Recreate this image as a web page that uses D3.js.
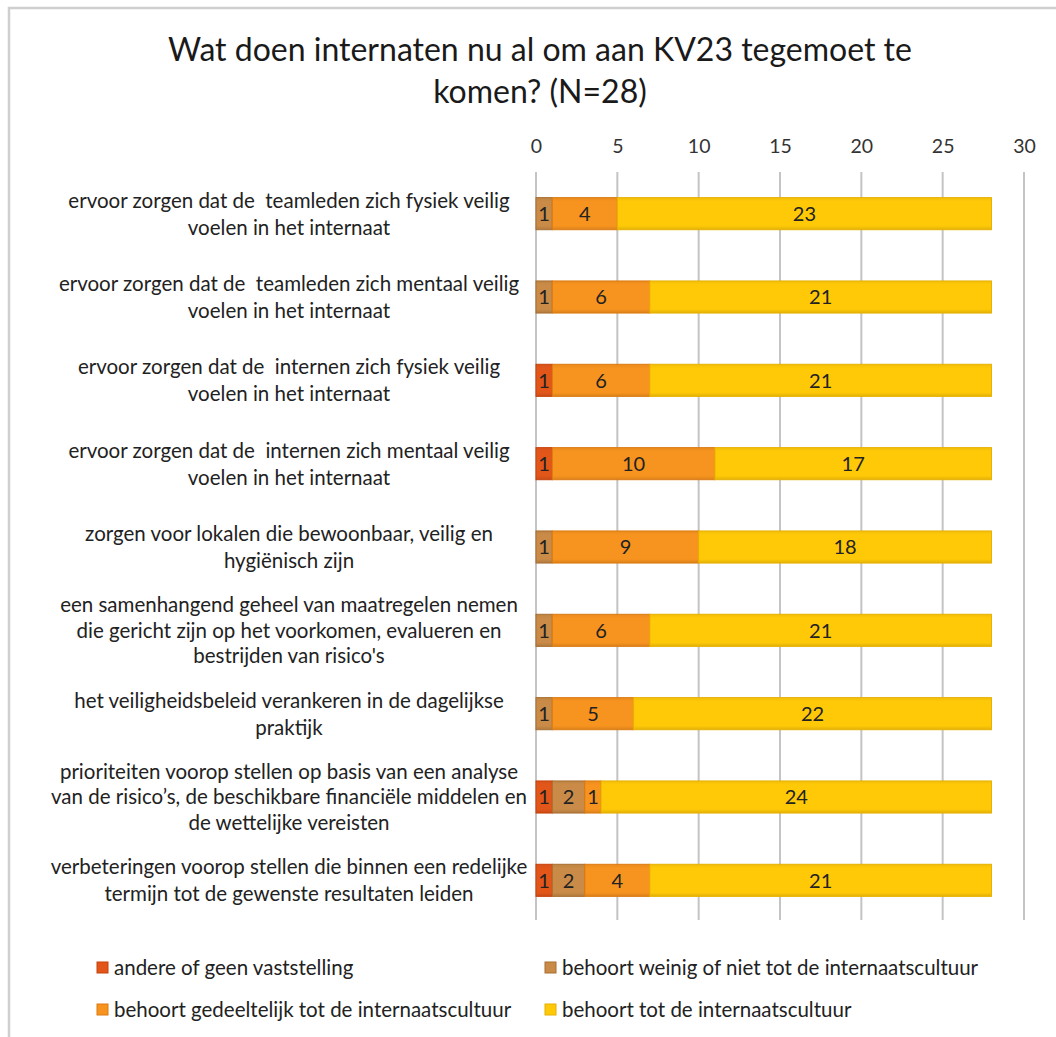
<!DOCTYPE html>
<html>
<head>
<meta charset="utf-8">
<script src="https://cdn.jsdelivr.net/npm/d3@7"></script>
<style>
  html, body { margin: 0; padding: 0; background: #fff; }
  svg { display: block; }
  text { font-family: Lato, "Open Sans", sans-serif; }
</style>
</head>
<body>
<div id="chart"></div>
<script>
// Survey: what boarding schools already do to meet KV23 (N=28)
const categories = [
  ["ervoor zorgen dat de  teamleden zich fysiek veilig", "voelen in het internaat"],
  ["ervoor zorgen dat de  teamleden zich mentaal veilig", "voelen in het internaat"],
  ["ervoor zorgen dat de  internen zich fysiek veilig", "voelen in het internaat"],
  ["ervoor zorgen dat de  internen zich mentaal veilig", "voelen in het internaat"],
  ["zorgen voor lokalen die bewoonbaar, veilig en", "hygiënisch zijn"],
  ["een samenhangend geheel van maatregelen nemen", "die gericht zijn op het voorkomen, evalueren en", "bestrijden van risico's"],
  ["het veiligheidsbeleid verankeren in de dagelijkse", "praktijk"],
  ["prioriteiten voorop stellen op basis van een analyse", "van de risico’s, de beschikbare financiële middelen en", "de wettelijke vereisten"],
  ["verbeteringen voorop stellen die binnen een redelijke", "termijn tot de gewenste resultaten leiden"]
];

const seriesNames = [
  "andere of geen vaststelling",
  "behoort weinig of niet tot de internaatscultuur",
  "behoort gedeeltelijk tot de internaatscultuur",
  "behoort tot de internaatscultuur"
];

const andere       = [0, 0, 1, 1, 0, 0, 0, 1, 1];
const weinig       = [1, 1, 0, 0, 1, 1, 1, 2, 2];
const gedeeltelijk = [4, 6, 6, 10, 9, 6, 5, 1, 4];
const behoort      = [23, 21, 21, 17, 18, 21, 22, 24, 21];

const xTicks = [0, 5, 10, 15, 20, 25, 30];

const titleLines = ["Wat doen internaten nu al om aan KV23 tegemoet te", "komen? (N=28)"];

const fills   = ["#E2561A", "#C98B47", "#F7931F", "#FFC908"];
const strokes = ["#C6420C", "#A86E30", "#DC7A10", "#E8B000"];

const W = 1056, H = 1037;
const svg = d3.select("#chart").append("svg").attr("width", W).attr("height", H);

// chart frame
svg.append("rect")
  .attr("x", 9).attr("y", 8).attr("width", W + 10).attr("height", H + 10)
  .attr("fill", "#fff").attr("stroke", "#cfcfcf").attr("stroke-width", 2.5);

// title
svg.append("g").selectAll("text").data(titleLines).join("text")
  .attr("x", 540).attr("y", (d, i) => 61 + i * 42)
  .attr("text-anchor", "middle")
  .attr("font-size", 32).attr("fill", "#1a1a1a")
  .text(d => d);

const idx = d3.range(categories.length);
const x = d3.scaleLinear().domain([0, 30]).range([536, 1024]);
const y = d3.scaleBand().domain(idx).range([172, 922]).paddingInner(0.615).paddingOuter(0.3075);

// gridlines
svg.append("g").selectAll("line").data(xTicks).join("line")
  .attr("x1", d => x(d)).attr("x2", d => x(d))
  .attr("y1", 172).attr("y2", 920)
  .attr("stroke", "#c4c4c4").attr("stroke-width", 2);

// top axis labels
const axis = svg.append("g").attr("transform", "translate(0,153)")
  .call(d3.axisTop(x).tickValues(xTicks).tickSize(0).tickPadding(0));
axis.select(".domain").remove();
axis.selectAll("text").attr("font-size", 19.5).attr("fill", "#333")
  .attr("font-family", "Lato, 'Open Sans', sans-serif");

// stacked series
const rows = idx.map(i => ({ i, a: andere[i], w: weinig[i], g: gedeeltelijk[i], b: behoort[i] }));
const stack = d3.stack().keys(["a", "w", "g", "b"]);
const layers = stack(rows);

const defs = svg.append("defs");
fills.forEach((c, k) => {
  const gr = defs.append("linearGradient").attr("id", "grad" + k)
    .attr("x1", 0).attr("x2", 0).attr("y1", 0).attr("y2", 1);
  gr.append("stop").attr("offset", "0").attr("stop-color", d3.color(c).darker(0.15));
  gr.append("stop").attr("offset", "0.12").attr("stop-color", c);
  gr.append("stop").attr("offset", "0.88").attr("stop-color", c);
  gr.append("stop").attr("offset", "1").attr("stop-color", d3.color(c).darker(0.35));
});

const gLayers = svg.append("g").selectAll("g").data(layers).join("g");
gLayers.each(function (layer, k) {
  const segs = layer.filter(d => d[1] > d[0]);
  const g = d3.select(this);
  g.selectAll("rect").data(segs).join("rect")
    .attr("x", d => x(d[0])).attr("width", d => x(d[1]) - x(d[0]))
    .attr("y", d => y(d.data.i)).attr("height", y.bandwidth())
    .attr("fill", "url(#grad" + k + ")")
    .attr("stroke", strokes[k]).attr("stroke-width", 1);
  g.selectAll("text").data(segs).join("text")
    .attr("x", d => (x(d[0]) + x(d[1])) / 2)
    .attr("y", d => y(d.data.i) + y.bandwidth() / 2)
    .attr("dy", "0.36em").attr("text-anchor", "middle")
    .attr("font-size", 20).attr("fill", "#222")
    .text(d => d[1] - d[0]);
});

// category labels
const catG = svg.append("g").selectAll("text").data(idx).join("text")
  .attr("text-anchor", "middle").attr("font-size", 20.5).attr("fill", "#222")
  .style("white-space", "pre");
catG.each(function (i) {
  const lines = categories[i];
  const lh = lines.length === 3 ? 25.5 : 27;
  const cy = y(i) + y.bandwidth() / 2;
  const y0 = cy - (lines.length - 1) * lh / 2;
  d3.select(this).selectAll("tspan").data(lines).join("tspan")
    .attr("x", 289).attr("y", (d, j) => y0 + j * lh).attr("dy", "0.36em")
    .text(d => d);
});

// legend
const legendPos = [[97, 968], [545, 968], [97, 1010], [545, 1010]];
const lg = svg.append("g").selectAll("g").data(seriesNames).join("g")
  .attr("transform", (d, k) => `translate(${legendPos[k][0]},${legendPos[k][1]})`);
lg.append("rect").attr("x", 0).attr("y", -6).attr("width", 11).attr("height", 11)
  .attr("fill", (d, k) => fills[k]).attr("stroke", (d, k) => strokes[k]).attr("stroke-width", 1);
lg.append("text").attr("x", 17).attr("y", 0).attr("dy", "0.36em")
  .attr("font-size", 20.5).attr("fill", "#222").text(d => d);
</script>
</body>
</html>
